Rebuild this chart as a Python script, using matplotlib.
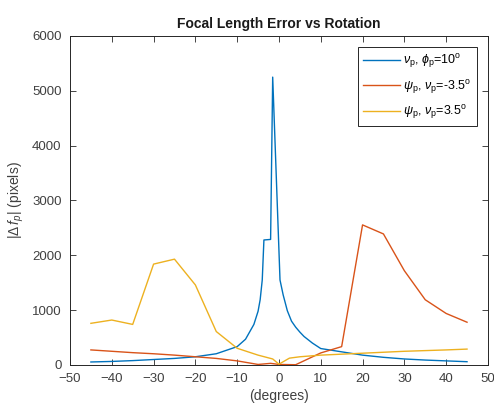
import numpy as np
import matplotlib
matplotlib.use("Agg")
import matplotlib.pyplot as plt

# values
blue_x = [-45, -40, -35, -30, -25, -20, -15, -10, -8, -6, -5, -4.5, -4, -3.6,
          -2, -1.5, 0.25, 1, 2, 3, 4, 5, 6, 8, 10, 15, 20, 25, 30, 35, 40, 45]
blue_y = [55, 65, 80, 100, 120, 150, 205, 335, 470, 740, 980, 1190, 1550, 2280,
          2290, 5250, 1550, 1280, 990, 800, 690, 600, 520, 400, 300, 240, 180,
          140, 110, 90, 75, 60]

orange_x = [-45, -40, -35, -30, -25, -20, -15, -10, -5, -2, 0, 4, 10, 15,
            20, 25, 30, 35, 40, 45]
orange_y = [275, 250, 225, 205, 180, 150, 120, 75, 10, 30, 10, 5, 220, 335,
            2555, 2390, 1720, 1190, 940, 780]

yellow_x = [-45, -40, -35, -30, -25, -20, -15, -10, -5, -1.5, 0, 2.5, 5, 10,
            20, 30, 40, 45]
yellow_y = [760, 820, 740, 1840, 1930, 1460, 610, 305, 180, 110, 15, 125,
            150, 180, 215, 250, 275, 290]

labels = [r'$\nu_\mathrm{p}$, $\phi_\mathrm{p}$=10$^\mathrm{o}$',
          r'$\psi_\mathrm{p}$, $\nu_\mathrm{p}$=-3.5$^\mathrm{o}$',
          r'$\psi_\mathrm{p}$, $\nu_\mathrm{p}$=3.5$^\mathrm{o}$']
colors = ["#0072BD", "#D95319", "#EDB120"]

plt.rcParams["font.family"] = ["Liberation Sans", "DejaVu Sans"]
plt.rcParams["mathtext.fontset"] = "custom"
plt.rcParams["mathtext.rm"] = "Liberation Sans"
plt.rcParams["mathtext.it"] = "Liberation Sans:italic"

fig = plt.figure(figsize=(4.94, 4.03), dpi=100)
ax = fig.add_axes([0.1417, 0.0943, 0.846, 0.8164])

ax.plot(blue_x, blue_y, color=colors[0], lw=1.0, label=labels[0])
ax.plot(orange_x, orange_y, color=colors[1], lw=1.0, label=labels[1])
ax.plot(yellow_x, yellow_y, color=colors[2], lw=1.0, label=labels[2])

ax.set_xlim(-50, 50)
ax.set_ylim(0, 6000)
ax.set_xticks(np.arange(-50, 51, 10))
ax.set_yticks(np.arange(0, 6001, 1000))
ax.tick_params(direction="in", top=True, right=True, length=4, width=0.6,
               labelsize=9.5, labelcolor="#404040", color="#262626", pad=6)
for s in ax.spines.values():
    s.set_color("#262626")
    s.set_linewidth(0.7)

ax.set_title("Focal Length Error vs Rotation", fontsize=10, fontweight="bold",
             color="#1a1a1a", pad=6)
ax.set_xlabel("(degrees)", fontsize=10, color="#404040", labelpad=3)
ax.set_ylabel(r"$|\Delta\, f_p|$ (pixels)", fontsize=10, color="#404040",
              labelpad=4)

leg = ax.legend(loc="upper right", fontsize=9, handlelength=2.9,
                fancybox=False, edgecolor="#262626", framealpha=1,
                borderaxespad=0.9, labelspacing=0.6, handletextpad=0.3)
leg.get_frame().set_linewidth(0.7)

fig.savefig("out.png", dpi=100)
